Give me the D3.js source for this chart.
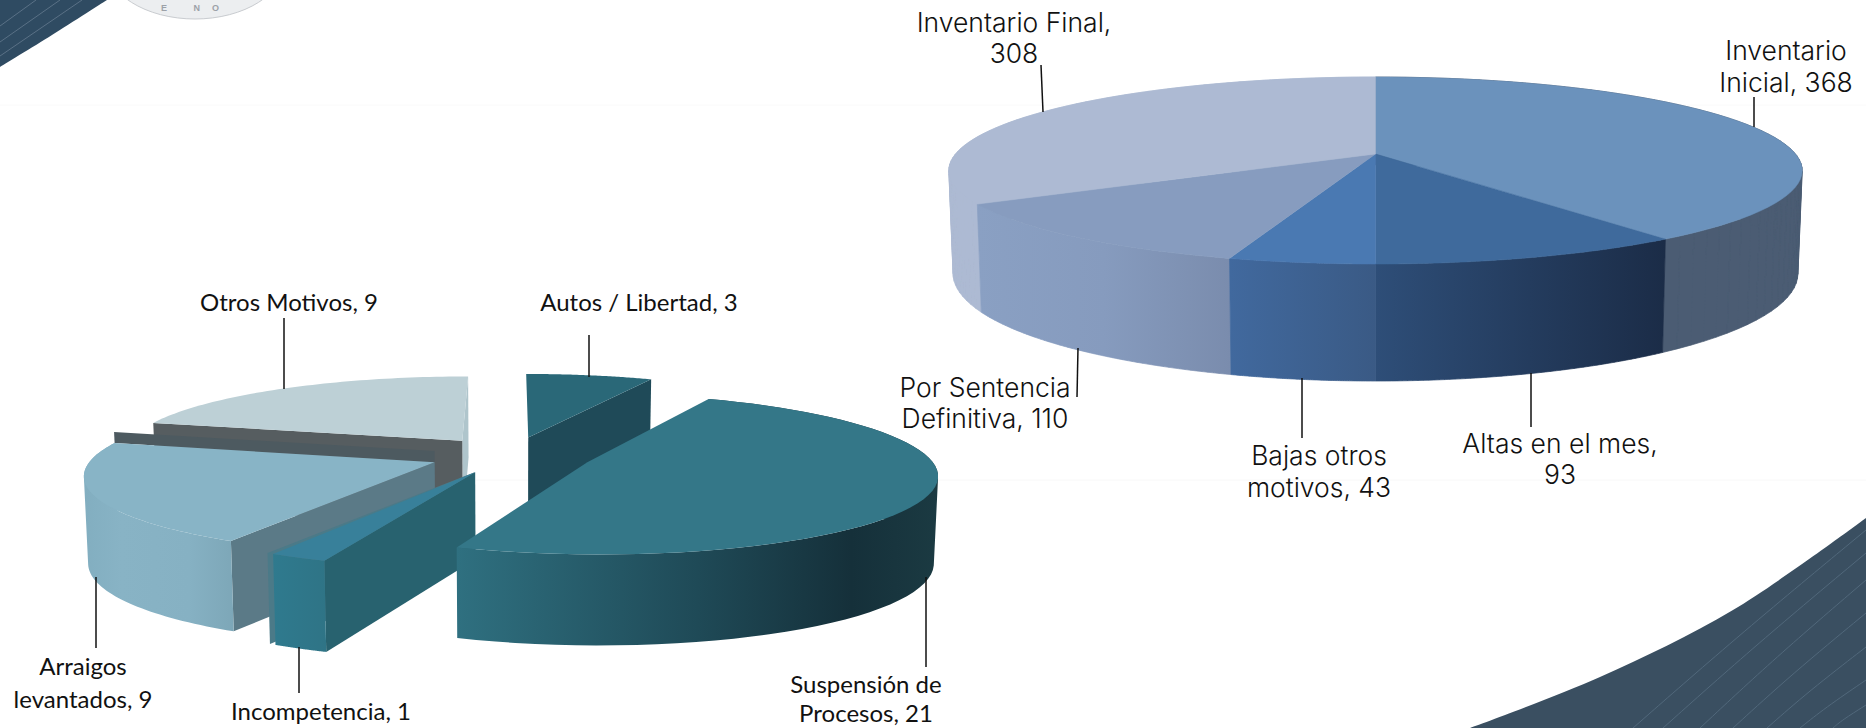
<!DOCTYPE html>
<html>
<head>
<meta charset="utf-8">
<script src="https://cdn.jsdelivr.net/npm/d3@7"></script>
<style>
html, body { margin: 0; padding: 0; background: #fff; overflow: hidden; }
svg { display: block; }
.lbl-left { font-family: Lato, sans-serif; font-size: 24px; fill: #111; text-anchor: middle; }
.lbl-right { font-family: Inter, sans-serif; font-size: 26.5px; font-weight: 300; fill: #111; text-anchor: middle; }
</style>
</head>
<body>
<script>
const width = 1866;
const height = 728;

// left pie
const leftNames = ["Autos / Libertad", "Suspensión de Procesos", "Incompetencia", "Arraigos levantados", "Otros Motivos"];
const leftValues = [3, 21, 1, 9, 9];

// right pie
const rightNames = ["Inventario Inicial", "Altas en el mes", "Bajas otros motivos", "Por Sentencia Definitiva", "Inventario Final"];
const rightValues = [368, 93, 43, 110, 308];

const svg = d3.select(document.body).append("svg")
    .attr("width", width)
    .attr("height", height)
    .attr("viewBox", [0, 0, width, height]);

const defs = svg.append("defs");
const gradId = (id, stops) => {
    const g = defs.append("linearGradient").attr("id", id);
    stops.forEach(s => g.append("stop").attr("offset", s[0]).attr("stop-color", s[1]));
    return "url(#" + id + ")";
};

// perspective of a tilted disc: u,v on the unit circle, z going down the rim
function project(P, U, V, z) {
    const w = 1 + P.p * V;
    const d = P.D / (1 + P.pd * V);
    return [P.cx + (P.A * U / w) * (1 - z * (1 - P.shrink)), P.cy - P.B * V / w + z * d];
}

const line = d3.line();
const sliceOf = (P, a) => {
    const mid = (a.startAngle + a.endAngle) / 2;
    const ex = P.e * Math.sin(mid), ey = P.e * Math.cos(mid);
    const pt = (t, r, z) => project(P, r * Math.sin(t) + ex, r * Math.cos(t) + ey, z);
    const at = i => a.startAngle + (a.endAngle - a.startAngle) * i / 60;
    return {
        top: () => line([pt(0, 0, 0), ...d3.range(0, 61).map(i => pt(at(i), 1, 0))]) + "Z",
        // rim as small quads, all wound the same way so the overlaps still fill
        side: () => d3.range(0, 60).map(i => {
            const q = [pt(at(i), 1, 0), pt(at(i + 1), 1, 0), pt(at(i + 1), 1, 1), pt(at(i), 1, 1)];
            return line(d3.polygonArea(q) < 0 ? q.reverse() : q) + "Z";
        }).join(""),
        wall: (t, z0 = 0, z1 = 1) => line([pt(t, 1, z0), pt(t, 1, z1), pt(0, 0, z1), pt(0, 0, z0)]) + "Z"
    };
};

const pie = d3.pie().sort(null).value(d => d).startAngle(0).endAngle(2 * Math.PI);

// decoration behind the charts
const bg = svg.append("g");
const curve = d3.line().curve(d3.curveCatmullRom);
bg.append("path")
    .attr("d", curve([[107, 0], [52, 35], [0, 67]]) + "L0,0Z")
    .attr("fill", "#2f4b62");
[[0, 42, 60, 0], [0, 26, 36, 0], [0, 56, 82, 0]].forEach(s => {
    bg.append("line").attr("x1", s[0]).attr("y1", s[1]).attr("x2", s[2]).attr("y2", s[3])
        .attr("stroke", "#5a7186").attr("stroke-width", 1);
});
bg.append("path")
    .attr("d", curve([[1866, 518], [1733, 610], [1600, 677], [1470, 728]]) + "L1866,728Z")
    .attr("fill", "#3a4f61");
[[1633, 530], [1663, 553], [1700, 580], [1733, 613], [1767, 647], [1800, 680], [1833, 705]].forEach(s => {
    bg.append("path")
        .attr("d", d3.line().curve(d3.curveBasis)([[s[0], 728], [(s[0] + 1866) / 2 - 8, (728 + s[1]) / 2 + 4], [1866, s[1]]]))
        .attr("fill", "none").attr("stroke", "#51687b").attr("stroke-width", 1);
});
bg.append("ellipse").attr("cx", 195).attr("cy", -38).attr("rx", 90).attr("ry", 57)
    .attr("fill", "#eceef0").attr("stroke", "#c9ccd0").attr("stroke-width", 1);
bg.append("text").attr("x", 196).attr("y", 11).attr("text-anchor", "middle")
    .attr("font-family", "Liberation Sans, sans-serif").attr("font-size", 9).attr("font-weight", 700)
    .attr("letter-spacing", 12).attr("fill", "#9ca1a8").text("E NO");
bg.append("line").attr("x1", 0).attr("y1", 105).attr("x2", 1866).attr("y2", 105).attr("stroke", "#fafafa");
bg.append("line").attr("x1", 476).attr("y1", 480).attr("x2", 1866).attr("y2", 480).attr("stroke", "#f8f8f8");

// right pie
const R = { cx: 1375.5, cy: 154, A: 420, B: 90.6, p: 0.1765, D: 100.4, pd: 0.142, shrink: 0.99, e: 0 };
const rightStyle = [
    { top: "#6b92bc", side: "#4b5c73" },
    { top: "#3f6a9c", side: gradId("r1", [[0, "#2e4e78"], [1, "#1b2c47"]]) },
    { top: "#4a79b2", side: gradId("r2", [[0, "#41699e"], [1, "#3a5a85"]]) },
    { top: "#879cbf", side: gradId("r3", [[0, "#8aa0c3"], [0.5, "#869bbe"], [1, "#7a8cad"]]) },
    { top: "#adbad3", side: "#adbad3" }
];
const rightG = svg.append("g");
const rightArcs = pie(rightValues);
// rims: the slice nearest the viewer goes last
const byDepth = rightArcs.map((d, i) => ({ d, i }))
    .sort((a, b) => Math.cos((b.d.startAngle + b.d.endAngle) / 2) - Math.cos((a.d.startAngle + a.d.endAngle) / 2));
rightG.selectAll("path.side").data(byDepth).join("path")
    .attr("class", "side")
    .attr("d", o => sliceOf(R, o.d).side())
    .attr("fill", o => rightStyle[o.i].side)
    .attr("stroke", o => rightStyle[o.i].side)
    .attr("stroke-width", 0.7);
rightG.selectAll("path.top").data(rightArcs).join("path")
    .attr("class", "top")
    .attr("d", d => sliceOf(R, d).top())
    .attr("fill", (d, i) => rightStyle[i].top)
    .attr("stroke", (d, i) => rightStyle[i].top)
    .attr("stroke-width", 0.5);

// left pie, exploded. painted back to front
const L = { cx: 511, cy: 455, A: 341, B: 77, p: 0.14, D: 86, pd: 0.05, shrink: 0.99, e: 0.24 };
const leftArcs = pie(leftValues);
const leftG = svg.append("g");
const addPath = (d, fill) => leftG.append("path").attr("d", d).attr("fill", fill);

// Otros Motivos
const otros = sliceOf(L, leftArcs[4]);
addPath(otros.wall(leftArcs[4].endAngle), "#afc5cc");
addPath(otros.wall(leftArcs[4].startAngle), "#565d60");
addPath(otros.top(), "#bdd0d6");

// Arraigos
const arraigos = sliceOf(L, leftArcs[3]);
addPath(arraigos.wall(leftArcs[3].endAngle, -0.13, 0), "#4d5a60");
addPath(arraigos.wall(leftArcs[3].startAngle), "#5b7a87");
addPath(arraigos.side(), gradId("l3", [[0, "#82aec0"], [0.25, "#88b3c5"], [0.7, "#86b1c3"], [1, "#7da7b8"]]));
addPath(arraigos.top(), "#88b4c6");

// Autos
const autos = sliceOf(L, leftArcs[0]);
addPath(autos.wall(leftArcs[0].endAngle), "#1f4a58");
addPath(autos.top(), "#2a6878");

// Incompetencia
const incomp = sliceOf(L, leftArcs[2]);
addPath(sliceOf(L, { startAngle: leftArcs[2].startAngle, endAngle: leftArcs[2].endAngle + 0.015 }).wall(leftArcs[2].endAngle + 0.015), "#4b7a88");
addPath(incomp.wall(leftArcs[2].startAngle), "#28626f");
addPath(incomp.side(), gradId("l2", [[0, "#2f7a8e"], [1, "#2f7486"]]));
addPath(incomp.top(), "#38809a");

// Suspension
const susp = sliceOf(L, leftArcs[1]);
addPath(susp.side(), gradId("l1", [[0, "#2f7080"], [0.5, "#1f4a57"], [0.82, "#15303a"], [1, "#1b3a42"]]));
addPath(susp.top(), "#347788");

// labels and leaders
const leaders = [
    [284, 318, 284, 389], [589, 335, 589, 377], [96, 577, 96, 648], [299, 647, 299, 693], [926, 577, 926, 667],
    [1041, 65, 1043, 112], [1754, 97, 1754, 127], [1078, 348, 1077, 397], [1302, 378, 1302, 438], [1531, 373, 1531, 427]
];
svg.append("g").attr("stroke", "#111").attr("stroke-width", 1.5)
    .selectAll("line").data(leaders).join("line")
    .attr("x1", d => d[0]).attr("y1", d => d[1]).attr("x2", d => d[2]).attr("y2", d => d[3]);

const leftLabels = [
    { i: 4, lines: ["Otros Motivos, 9"], x: 289, y: [311] },
    { i: 0, lines: ["Autos / Libertad, 3"], x: 639, y: [311] },
    { i: 3, lines: ["Arraigos", "levantados, 9"], x: 83, y: [675, 708] },
    { i: 2, lines: ["Incompetencia, 1"], x: 321, y: [720] },
    { i: 1, lines: ["Suspensión de", "Procesos, 21"], x: 866, y: [693, 722] }
];
const rightLabels = [
    { i: 4, lines: ["Inventario Final,", "308"], x: 1014, y: [32, 63] },
    { i: 0, lines: ["Inventario", "Inicial, 368"], x: 1786, y: [60, 92] },
    { i: 3, lines: ["Por Sentencia", "Definitiva, 110"], x: 985, y: [397, 428] },
    { i: 2, lines: ["Bajas otros", "motivos, 43"], x: 1319, y: [465, 497] },
    { i: 1, lines: ["Altas en el mes,", "93"], x: 1560, y: [453, 484] }
];
const drawLabels = (labels, cls) => labels.forEach(l => {
    l.lines.forEach((t, k) => {
        svg.append("text").attr("class", cls).attr("x", l.x).attr("y", l.y[k]).text(t);
    });
});
drawLabels(leftLabels, "lbl-left");
drawLabels(rightLabels, "lbl-right");
</script>
</body>
</html>
